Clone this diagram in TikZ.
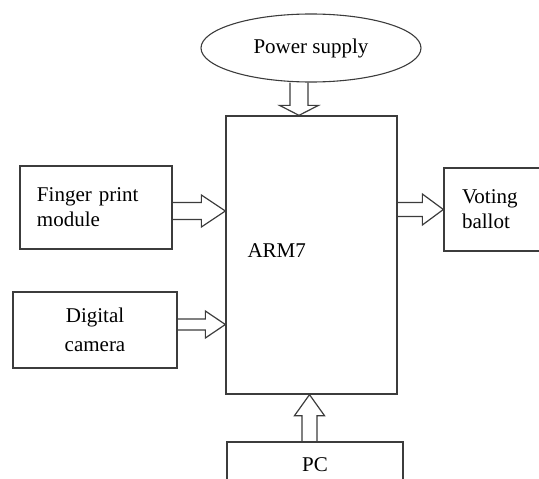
\documentclass[tikz,border=0pt]{standalone}
\usepackage{fontspec}
\setmainfont{Liberation Serif}
\usetikzlibrary{calc,shapes.geometric}
\definecolor{linegray}{HTML}{3C3C3C}
\tikzset{
  blockbox/.style={draw=linegray, line width=1.3pt, inner sep=0pt,
                   font=\fontsize{21}{25}\selectfont},
  fatarrow/.style={draw=linegray, line width=1.2pt, line join=miter},
}
% hollow arrow pointing right: start, tip, shaft half, head half, head length
\newcommand{\rightfat}[5]{%
  \draw[fatarrow] let \p1=(#1), \p2=(#2) in
    (\x1,\y2+#3) -- (\x2-#5,\y2+#3) -- (\x2-#5,\y2+#4) -- (\x2,\y2)
    -- (\x2-#5,\y2-#4) -- (\x2-#5,\y2-#3) -- (\x1,\y2-#3);}
% hollow vertical arrow: start, tip, shaft half, head half, signed head length
\newcommand{\vertfat}[5]{%
  \draw[fatarrow] let \p1=(#1), \p2=(#2) in
    (\x2-#3,\y1) -- (\x2-#3,\y2+#5) -- (\x2-#4,\y2+#5) -- (\x2,\y2)
    -- (\x2+#4,\y2+#5) -- (\x2+#3,\y2+#5) -- (\x2+#3,\y1);}

\begin{document}
\begin{tikzpicture}[x=1pt,y=-1pt]
  \useasboundingbox (0,0) rectangle (539,479);
  \clip (0,0) rectangle (539,479);

  % blocks
  \node[blockbox, ellipse, line width=1.1pt, minimum width=220pt,
        minimum height=68pt] (power) at (311,48) {Power supply};
  \node[blockbox, minimum width=171pt, minimum height=278pt] (arm) at (311.5,255) {};
  \node[anchor=base west, font=\fontsize{21}{25}\selectfont] (armlabel) at (244,257) {ARM7};
  \node[blockbox, minimum width=152pt, minimum height=83pt, text width=118pt,
        inner xsep=17pt, align=left] (finger) at (96,207.5) {Finger print\\module};
  \node[blockbox, minimum width=164pt, minimum height=76pt, align=center,
        font=\fontsize{21}{29}\selectfont] (camera) at (95,330) {Digital\\camera};
  \node[blockbox, minimum width=116pt, minimum height=83pt, text width=80pt,
        inner xsep=18pt, align=left] (voting) at (502,209.5) {Voting\\ballot};
  \node[blockbox, minimum width=176pt, minimum height=46pt] (pc) at (315,465) {PC};

  % hollow arrows
  \vertfat{power.south}{$(arm.north)+(-12.5,0)$}{9pt}{19.5pt}{10pt}
  \rightfat{finger.east}{$(arm.west |- finger.east)+(0,3.5)$}{8.5pt}{16pt}{24pt}
  \rightfat{camera.east}{$(arm.west |- camera.east)+(0,-5.5)$}{5.5pt}{13.5pt}{20pt}
  \rightfat{arm.east}{voting.west}{7pt}{15.5pt}{21pt}
  \vertfat{pc.north}{$(arm.south)+(-2,0)$}{7.5pt}{15pt}{-21pt}
\end{tikzpicture}
\end{document}
